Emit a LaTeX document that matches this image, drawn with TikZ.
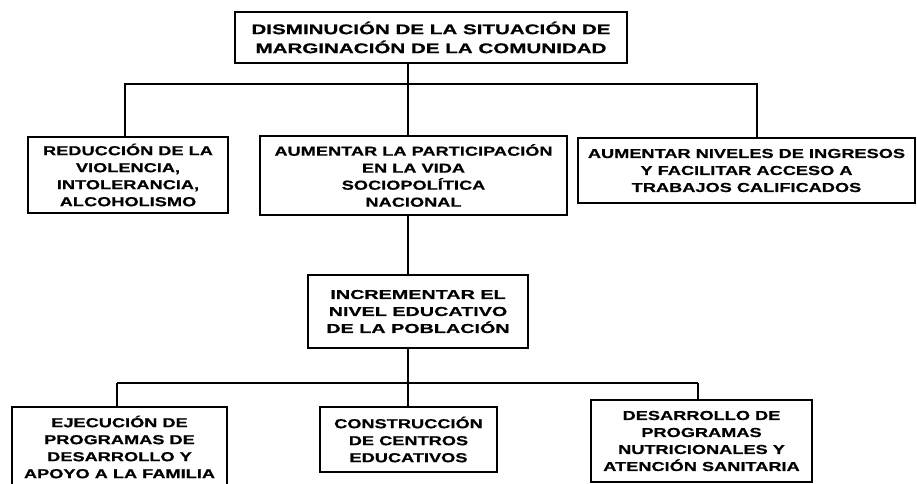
\documentclass[tikz,border=0pt]{standalone}
\usepackage{fontspec}
\newfontfamily\boxfont{Liberation Sans Bold}[FakeStretch=1.4,FakeBold=0.6]
\newfontfamily\widefont{Liberation Sans Bold}[FakeStretch=1.52,FakeBold=0.6]
\newfontfamily\titlefont{Liberation Sans Bold}[FakeStretch=1.47,FakeBold=0.6]
\begin{document}
\begin{tikzpicture}[x=1pt,y=-1pt,
  box/.style={draw=black, line width=2.5pt, rectangle, inner sep=0pt,
    align=center, fill=white,
    font=\boxfont\fontsize{13}{17}\selectfont},
  widebox/.style={box, font=\widefont\fontsize{13}{17}\selectfont},
  titlebox/.style={box, font=\titlefont\fontsize{14}{19}\selectfont},
  link/.style={line width=2.5pt, line join=miter},
  bar/.style={line width=1.5pt}]
  \useasboundingbox (0,0) rectangle (917,483);
  \clip (0,0) rectangle (917,483);
  \fill[white] (0,0) rectangle (917,483);

  % junction points of the connectors
  \coordinate (j1) at (408,84);
  \coordinate (aL) at (125,84);
  \coordinate (cR) at (757,84);
  \coordinate (j2) at (408,383);
  \coordinate (eL) at (117,383);
  \coordinate (gR) at (698,383);

  % boxes
  \node[titlebox, minimum width=392pt, minimum height=51pt] (top) at (431,37.5)
    {DISMINUCIÓN DE LA SITUACIÓN DE\\MARGINACIÓN DE LA COMUNIDAD};
  \node[box, minimum width=200pt, minimum height=76pt] (A) at (128,175)
    {REDUCCIÓN DE LA\\VIOLENCIA,\\INTOLERANCIA,\\ALCOHOLISMO};
  \node[box, minimum width=307pt, minimum height=79pt] (B) at (413.5,175.5)
    {AUMENTAR LA PARTICIPACIÓN\\EN LA VIDA\\SOCIOPOLÍTICA\\NACIONAL};
  \node[box, minimum width=337pt, minimum height=65pt] (C) at (746.5,170.5)
    {AUMENTAR NIVELES DE INGRESOS\\Y FACILITAR ACCESO A\\TRABAJOS CALIFICADOS};
  \node[widebox, minimum width=220pt, minimum height=73pt] (D) at (418,311.5)
    {INCREMENTAR EL\\NIVEL EDUCATIVO\\DE LA POBLACIÓN};
  \node[box, minimum width=215pt, minimum height=80pt] (E) at (119.5,447)
    {EJECUCIÓN DE\\PROGRAMAS DE\\DESARROLLO Y\\APOYO A LA FAMILIA};
  \node[box, minimum width=177pt, minimum height=65pt] (F) at (408.5,439.5)
    {CONSTRUCCIÓN\\DE CENTROS\\EDUCATIVOS};
  \node[box, minimum width=221pt, minimum height=82pt] (G) at (701.5,441)
    {DESARROLLO DE\\PROGRAMAS\\NUTRICIONALES Y\\ATENCIÓN SANITARIA};

  % upper tree
  \draw[link] (top.south -| j1) -- (B.north -| j1);
  \draw[link] (A.north -| aL) -- (aL) -- (cR) -- (C.north -| cR);

  % middle link
  \draw[link] (B.south -| j2) -- (D.north -| j2);

  % lower tree
  \draw[link] (D.south -| j2) -- (F.north -| j2);
  \draw[bar] (eL) -- (gR);
  \draw[link] (eL) -- (E.north -| eL);
  \draw[link] (gR) -- (G.north -| gR);
\end{tikzpicture}
\end{document}
